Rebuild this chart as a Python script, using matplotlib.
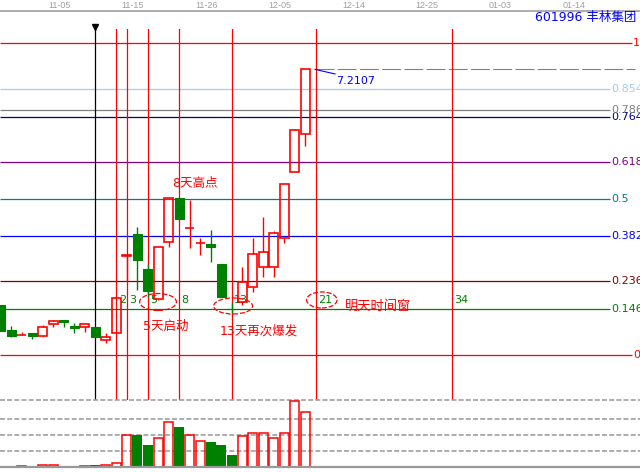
import matplotlib; matplotlib.use('agg')
import matplotlib.pyplot as plt
from matplotlib.patches import Ellipse, Rectangle
from matplotlib.lines import Line2D
from matplotlib.transforms import blended_transform_factory

plt.rcParams['font.family'] = ['DejaVu Sans', 'Noto Sans CJK SC']

# daily candles, 601996 丰林集团
opens = [3.737, 3.369, 3.290, 3.324, 3.280, 3.457, 3.516, 3.428, 3.413, 3.413,
         3.221, 3.324, 4.460, 4.784, 4.268, 3.826, 4.666, 5.315, 4.865, 4.645,
         4.637, 4.342, 3.680, 3.781, 4.003, 4.297, 4.297, 4.725, 5.698, 6.258]
highs = [3.737, 3.428, 3.339, 3.324, 3.442, 3.516, 3.516, 3.472, 3.457, 3.413,
         3.324, 3.840, 4.474, 4.887, 4.342, 4.592, 5.315, 5.315, 5.285, 4.725,
         4.843, 4.342, 3.767, 4.297, 4.725, 5.035, 4.828, 5.521, 6.332, 7.2107]
lows = [3.354, 3.265, 3.290, 3.236, 3.265, 3.413, 3.413, 3.324, 3.339, 3.265,
        3.177, 3.324, 4.091, 3.958, 3.855, 3.811, 4.592, 5.005, 4.578, 4.474,
        4.371, 3.855, 3.619, 3.737, 3.929, 4.150, 4.150, 4.651, 5.698, 6.081]
closes = [3.354, 3.280, 3.295, 3.280, 3.413, 3.501, 3.487, 3.398, 3.457, 3.265,
          3.265, 3.840, 4.474, 4.401, 3.944, 4.592, 5.315, 5.005, 4.872, 4.651,
          4.592, 3.855, 3.678, 4.076, 4.489, 4.519, 4.799, 5.521, 6.317, 7.2107]
volumes = [0.9, 0.4, 0.4, 0.4, 1.1, 1.1, 0.4, 0.4, 0.4, 1.1,
           1.1, 2.3, 20.3, 19.8, 13.6, 18.4, 28.4, 24.8, 20.3, 16.5,
           15.4, 13.6, 7.3, 19.6, 21.5, 21.5, 18.4, 21.5, 41.5, 34.6]

date_labels = ['11-05', '11-15', '11-26', '12-05', '12-14', '12-25', '01-03', '01-14']

swing_low, swing_high = 3.00, 7.60
last_price = 7.2107
fib_ratios = [0, 0.146, 0.236, 0.382, 0.5, 0.618, 0.764, 0.786, 0.854, 1]
fib_texts = ['0', '0.146', '0.236', '0.382', '0.5', '0.618', '0.764', '0.786', '0.854', '1']
fib_colors = ['#ff0000', '#008000', '#800000', '#0000ff', '#008080', '#800080',
              '#000080', '#808080', '#a6caf0', '#ff0000']

start_idx = 9
fib_days = [2, 3, 5, 8, 13, 21, 34]
circled_days = [5, 13, 21]

notes = ['8天高点', '5天启动', '13天再次爆发', '明天时间窗']

RED = '#ff0000'
GREEN = '#008000'

fig = plt.figure(figsize=(6.4, 4.72), dpi=100)
ax = fig.add_axes([0, 1 - 400 / 472, 1, 371 / 472])
ax.set_xlim(-0.05, 60.9)
ax.set_ylim(2.336, 7.806)
ax.axis('off')

# fibonacci price levels
for r, t, c in zip(fib_ratios, fib_texts, fib_colors):
    p = swing_low + r * (swing_high - swing_low)
    x_end = 60.14 if r in (0, 1) else 58.05
    ax.hlines(p, -0.05, x_end, color=c, lw=0.9, zorder=1)
    ax.text(x_end + 0.1, p, t, color=c, fontsize=8, ha='left', va='center', clip_on=False)

# fibonacci time zones
ax.axvline(start_idx, color='black', lw=0.9, zorder=2)
ax.plot(start_idx, 7.83, marker='v', color='black', ms=5, clip_on=False)
for d in fib_days:
    ax.axvline(start_idx + d, color=RED, lw=0.9, zorder=2)
    ax.text(start_idx + d + 0.25, 3.811, str(d), color=GREEN, fontsize=8,
            ha='left', va='center')

# hand-drawn circles round the key days
ellipse_shapes = [(1.0, 3.781, 3.5, 0.25), (0.15, 3.722, 3.7, 0.236), (0.6, 3.811, 2.9, 0.236)]
for d, (dx, cy, ew, eh) in zip(circled_days, ellipse_shapes):
    ax.add_patch(Ellipse((start_idx + d + dx, cy), ew, eh, fill=False,
                         ec=RED, lw=0.9, ls=(0, (4, 1.5)), zorder=5))

# candles
w = 0.86
for i, (o, h, l, c) in enumerate(zip(opens, highs, lows, closes)):
    lo_b, hi_b = min(o, c), max(o, c)
    if c >= o:
        ax.vlines(i, hi_b, h, color=RED, lw=1.0, zorder=3)
        ax.vlines(i, l, lo_b, color=RED, lw=1.0, zorder=3)
        ax.add_patch(Rectangle((i - w / 2, lo_b), w, hi_b - lo_b, fc='none',
                               ec=RED, lw=1.2, zorder=3))
    else:
        ax.vlines(i, l, h, color=GREEN, lw=1.0, zorder=4)
        ax.add_patch(Rectangle((i - w / 2, lo_b), w, hi_b - lo_b, fc=GREEN,
                               ec=GREEN, lw=0.8, zorder=4))

# last price marker
ax.hlines(last_price, 29.95, 60.43, color='#808080', lw=0.8, ls=(0, (17, 3)), zorder=1)
ax.plot([29.95, 31.86], [last_price, 7.143], color='#0000ff', lw=0.8)
ax.text(31.95, 7.04, f'{last_price:.4f}', color='#0000ff', fontsize=8, ha='left', va='center')

# notes
ax.text(16.33, 5.521, notes[0], color=RED, fontsize=9, ha='left', va='center')
ax.text(13.57, 3.428, notes[1], color=RED, fontsize=9, ha='left', va='center')
ax.text(20.9, 3.354, notes[2], color=RED, fontsize=9, ha='left', va='center')
ax.text(32.81, 3.722, notes[3], color=RED, fontsize=9.5, ha='left', va='center')

# header strip
trans = blended_transform_factory(ax.transData, fig.transFigure)
for k, lab in enumerate(date_labels):
    ax.text(5.6 + 7 * k, 1 - 6 / 472, lab, transform=trans, color='#a0a0a0',
            fontsize=6.5, family='Liberation Sans', ha='center', va='center')
fig.add_artist(Line2D([0, 1], [1 - 11 / 472] * 2, transform=fig.transFigure,
                      color='#a0a0a0', lw=1.2))
fig.text(636 / 640, 1 - 18 / 472, '601996 丰林集团', color='#0000ff', fontsize=9,
         ha='right', va='center')

# volume panel
vax = fig.add_axes([0, 1 - 467 / 472, 1, 67 / 472])
vax.set_xlim(-0.05, 60.9)
vax.set_ylim(0, 41.9)
vax.axis('off')
for g in [10, 20, 30, 41.9]:
    vax.axhline(g, color='#a0a0a0', lw=1.2, ls=(0, (3, 1.3)), zorder=0, clip_on=False)
for i, (o, c, v) in enumerate(zip(opens, closes, volumes)):
    if c >= o:
        vax.bar(i, v, width=w, fc='none', ec=RED, lw=1.1, zorder=2)
    else:
        vax.bar(i, v, width=0.95, color=GREEN, zorder=2)
vax.axhline(0, color='#999999', lw=1.6, clip_on=False, zorder=3)

fig.savefig('out.png', dpi=100)
plt.close()
